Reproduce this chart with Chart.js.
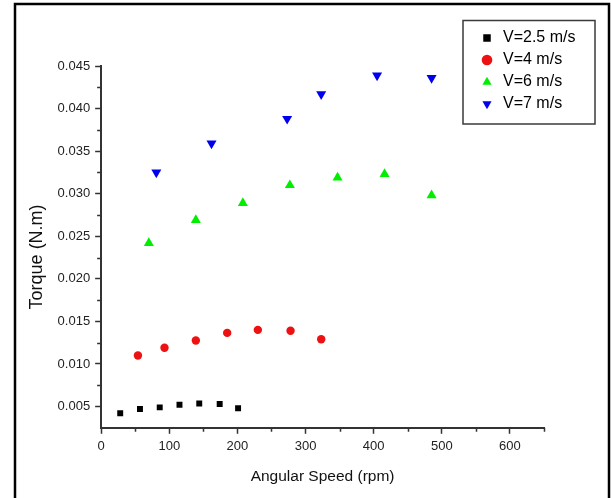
<!DOCTYPE html>
<html>
<head>
<meta charset="utf-8">
<script src="https://cdn.jsdelivr.net/npm/chart.js@4/dist/chart.umd.min.js"></script>
<style>
  html, body { margin: 0; padding: 0; background: #fff; overflow: hidden; }
  #wrap { position: relative; width: 611px; height: 498px; }
</style>
</head>
<body>
<div id="wrap"><canvas id="chart" width="611" height="498"></canvas></div>
<script>
// angular speed (rpm) / torque (N.m)
var speed25 = [28, 57, 86, 115, 144, 174, 201];
var torque25 = [0.0042, 0.0047, 0.0049, 0.0052, 0.00535, 0.0053, 0.0048];

var speed4 = [54, 93, 139, 185, 230, 278, 323];
var torque4 = [0.0110, 0.0119, 0.01275, 0.01365, 0.0140, 0.0139, 0.0129];

var speed6 = [70, 139, 208, 277, 347, 416, 485];
var torque6 = [0.0242, 0.0269, 0.0289, 0.0310, 0.0319, 0.0323, 0.0298];

var speed7 = [81, 162, 273, 323, 405, 485];
var torque7 = [0.0325, 0.0359, 0.0388, 0.0417, 0.0439, 0.0436];

var seriesLabels = ["V=2.5 m/s", "V=4 m/s", "V=6 m/s", "V=7 m/s"];

var xTicks = [0, 100, 200, 300, 400, 500, 600];
var xMinorTicks = [50, 150, 250, 350, 450, 550, 650];
var yTicks = [0.005, 0.010, 0.015, 0.020, 0.025, 0.030, 0.035, 0.040, 0.045];
var yMinorTicks = [0.0075, 0.0125, 0.0175, 0.0225, 0.0275, 0.0325, 0.0375, 0.0425];

function toPoints(xs, ys) {
  var pts = [];
  for (var i = 0; i < xs.length; i++) {
    pts.push({ x: xs[i], y: ys[i] });
  }
  return pts;
}

const axisColor = "#333333";
const fontFamily = "'Liberation Sans', Arial, sans-serif";

// minor ticks, shorter than the labelled ones
var minorTicks = {
  id: "minorTicks",
  afterDraw: function(chart) {
    var ctx = chart.ctx;
    var xs = chart.scales.x;
    var ys = chart.scales.y;
    ctx.save();
    ctx.strokeStyle = axisColor;
    ctx.lineWidth = 1.5;
    ctx.beginPath();
    xMinorTicks.forEach(function(v) {
      var px = Math.round(xs.getPixelForValue(v)) + 0.5;
      ctx.moveTo(px, xs.top);
      ctx.lineTo(px, xs.top + 4);
    });
    yMinorTicks.forEach(function(v) {
      var py = Math.round(ys.getPixelForValue(v)) + 0.5;
      ctx.moveTo(ys.right, py);
      ctx.lineTo(ys.right - 4, py);
    });
    ctx.stroke();
    ctx.restore();
  }
};

// put the legend in the upper right corner and box it, plus the page frame
var legendBox = {
  id: "legendBox",
  afterLayout: function(chart) {
    var lg = chart.legend;
    var w = lg.width, h = lg.height;
    lg.left = 473;
    lg.top = 24;
    lg.right = lg.left + w;
    lg.bottom = lg.top + h;
  },
  afterDraw: function(chart) {
    var ctx = chart.ctx;
    ctx.save();
    ctx.strokeStyle = "#3a3a3a";
    ctx.lineWidth = 1.5;
    ctx.strokeRect(463, 20.5, 132, 103.5);
    ctx.strokeStyle = "#000";
    ctx.lineWidth = 2.5;
    ctx.beginPath();
    ctx.moveTo(15, 520);
    ctx.lineTo(15, 4);
    ctx.lineTo(609, 4);
    ctx.lineTo(609, 520);
    ctx.stroke();
    ctx.restore();
  }
};

new Chart(document.getElementById("chart"), {
  type: "scatter",
  data: {
    datasets: [
      {
        label: seriesLabels[0],
        data: toPoints(speed25, torque25),
        pointStyle: "rect",
        pointRadius: 4.2,
        backgroundColor: "#000000",
        borderColor: "#000000",
        borderWidth: 0
      },
      {
        label: seriesLabels[1],
        data: toPoints(speed4, torque4),
        pointStyle: "circle",
        pointRadius: 4.2,
        backgroundColor: "#ee1111",
        borderColor: "#ee1111",
        borderWidth: 0
      },
      {
        label: seriesLabels[2],
        data: toPoints(speed6, torque6),
        pointStyle: "triangle",
        pointRadius: 5.8,
        backgroundColor: "#00ee00",
        borderColor: "#00ee00",
        borderWidth: 0
      },
      {
        label: seriesLabels[3],
        data: toPoints(speed7, torque7),
        pointStyle: "triangle",
        pointRotation: 180,
        pointRadius: 5.8,
        backgroundColor: "#0000ee",
        borderColor: "#0000ee",
        borderWidth: 0
      }
    ]
  },
  options: {
    responsive: false,
    animation: false,
    layout: {
      padding: { left: 20, right: 67, top: 66, bottom: 8 }
    },
    plugins: {
      tooltip: { enabled: false },
      legend: {
        position: "chartArea",
        align: "start",
        labels: {
          usePointStyle: true,
          boxHeight: 7.5,
          padding: 6,
          color: "#000",
          font: { family: fontFamily, size: 16 }
        }
      }
    },
    scales: {
      x: {
        type: "linear",
        min: 0,
        max: 650,
        afterBuildTicks: function(scale) {
          scale.ticks = xTicks.map(function(v) { return { value: v }; });
        },
        border: { color: axisColor, width: 2 },
        grid: {
          drawOnChartArea: false,
          tickLength: 6,
          tickWidth: 1.5,
          tickColor: axisColor
        },
        ticks: {
          padding: 5,
          color: "#222",
          maxRotation: 0,
          font: { family: fontFamily, size: 13 }
        },
        title: {
          display: true,
          text: "Angular Speed (rpm)",
          color: "#111",
          padding: { top: 8, bottom: 4 },
          font: { family: fontFamily, size: 15.5 }
        }
      },
      y: {
        type: "linear",
        min: 0.0025,
        max: 0.045,
        afterBuildTicks: function(scale) {
          scale.ticks = yTicks.map(function(v) { return { value: v }; });
        },
        border: { color: axisColor, width: 2 },
        grid: {
          drawOnChartArea: false,
          tickLength: 6,
          tickWidth: 1.5,
          tickColor: axisColor
        },
        ticks: {
          padding: 5,
          color: "#222",
          font: { family: fontFamily, size: 13 },
          callback: function(v) { return Number(v).toFixed(3); }
        },
        title: {
          display: true,
          text: "Torque (N.m)    ",
          color: "#111",
          padding: { top: 6, bottom: 5 },
          font: { family: fontFamily, size: 18 }
        }
      }
    }
  },
  plugins: [minorTicks, legendBox]
});
</script>
</body>
</html>
